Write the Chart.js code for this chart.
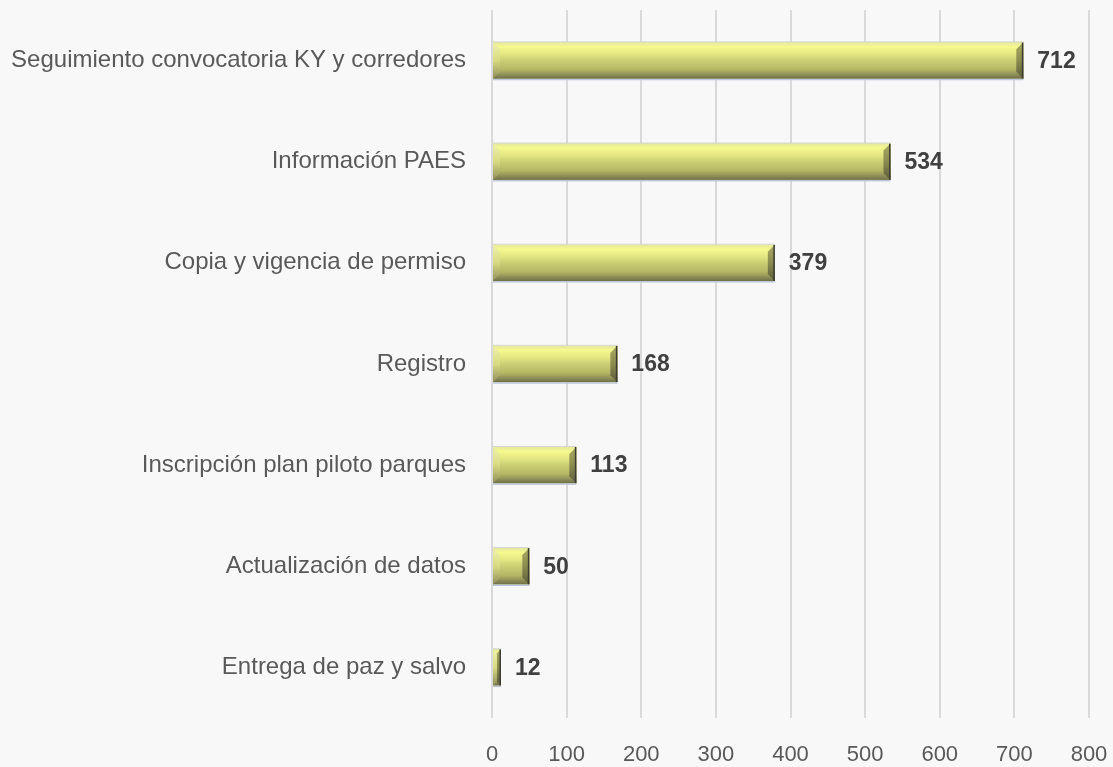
<!DOCTYPE html>
<html>
<head>
<meta charset="utf-8">
<script src="https://cdn.jsdelivr.net/npm/chart.js@4.4.0/dist/chart.umd.min.js"></script>
<style>
  html, body { margin: 0; padding: 0; background: #f8f8f8; }
  #wrap { width: 1113px; height: 767px; }
</style>
</head>
<body>
<div id="wrap"><canvas id="chart" width="1113" height="767"></canvas></div>
<script>
// data
const categories = [
  'Seguimiento convocatoria KY y corredores',
  'Información PAES',
  'Copia y vigencia de permiso',
  'Registro',
  'Inscripción plan piloto parques',
  'Actualización de datos',
  'Entrega de paz y salvo'
];
const values = [712, 534, 379, 168, 113, 50, 12];
const xTicks = [0, 100, 200, 300, 400, 500, 600, 700, 800];

// draws the bevelled look over each bar
const bevelBars = {
  id: 'bevelBars',
  afterDatasetsDraw(chart) {
    const ctx = chart.ctx;
    const meta = chart.getDatasetMeta(0);
    meta.data.forEach((bar) => {
      const p = bar.getProps(['x', 'y', 'base', 'height'], true);
      const L = Math.min(p.base, p.x), R = Math.max(p.base, p.x);
      const T = p.y - p.height / 2, B = p.y + p.height / 2;
      const w = R - L;
      const b = Math.min(7, w / 2);
      ctx.save();
      // body
      const g = ctx.createLinearGradient(0, T, 0, B);
      g.addColorStop(0, '#e4e79e');
      g.addColorStop(0.12, '#f6f98e');
      g.addColorStop(0.3, '#e6e983');
      g.addColorStop(0.5, '#cbce74');
      g.addColorStop(0.75, '#b4b664');
      g.addColorStop(0.9, '#8b8b56');
      g.addColorStop(1, '#6e6e48');
      ctx.fillStyle = g;
      ctx.fillRect(L, T, w, B - T);
      // left bevel
      const gl = ctx.createLinearGradient(0, T, 0, B);
      gl.addColorStop(0, '#f0f2aa');
      gl.addColorStop(0.5, '#d8da82');
      gl.addColorStop(1, '#8e8e58');
      ctx.fillStyle = gl;
      ctx.beginPath();
      ctx.moveTo(L, T);
      ctx.lineTo(L + b, T + b);
      ctx.lineTo(L + b, B - b);
      ctx.lineTo(L, B);
      ctx.closePath();
      ctx.fill();
      // right bevel
      const gr = ctx.createLinearGradient(0, T, 0, B);
      gr.addColorStop(0, '#a9ab62');
      gr.addColorStop(0.5, '#8a8b4e');
      gr.addColorStop(1, '#5c5c3c');
      ctx.fillStyle = gr;
      ctx.beginPath();
      ctx.moveTo(R, T);
      ctx.lineTo(R - b, T + b);
      ctx.lineTo(R - b, B - b);
      ctx.lineTo(R, B);
      ctx.closePath();
      ctx.fill();
      // dark right edge
      ctx.fillStyle = '#3c3c34';
      ctx.fillRect(R - 1.5, T, 1.5, B - T);
      // soft shadow under the bar
      ctx.fillStyle = '#bcc6d8';
      ctx.fillRect(L, B, w, 1.5);
      ctx.fillStyle = '#d6d8d0';
      ctx.fillRect(L, T - 1, w, 1);
      ctx.restore();
    });
  }
};

// value labels at the end of each bar
const valueLabels = {
  id: 'valueLabels',
  afterDatasetsDraw(chart) {
    const ctx = chart.ctx;
    const meta = chart.getDatasetMeta(0);
    ctx.save();
    ctx.font = 'bold 23px "Liberation Sans", Arial, sans-serif';
    ctx.fillStyle = '#404040';
    ctx.textAlign = 'left';
    ctx.textBaseline = 'middle';
    meta.data.forEach((bar, i) => {
      ctx.fillText(String(values[i]), bar.x + 14, bar.y + 1);
    });
    ctx.restore();
  }
};

new Chart(document.getElementById('chart').getContext('2d'), {
  type: 'bar',
  data: {
    labels: categories,
    datasets: [{
      data: values,
      backgroundColor: '#cbce74',
      borderWidth: 0,
      barPercentage: 0.36,
      categoryPercentage: 1
    }]
  },
  options: {
    indexAxis: 'y',
    responsive: false,
    animation: false,
    layout: { padding: { top: 10, right: 24, bottom: 0, left: 0 } },
    plugins: {
      legend: { display: false },
      tooltip: { enabled: false }
    },
    scales: {
      x: {
        min: 0,
        max: 800,
        afterBuildTicks: (scale) => { scale.ticks = xTicks.map(v => ({ value: v })); },
        afterFit: (scale) => {
          scale.height = 49;
          scale.paddingLeft = 0; scale.paddingRight = 0;
          scale.paddingTop = 0; scale.paddingBottom = 0;
        },
        grid: { color: '#d9d9d9', lineWidth: 2, drawTicks: false },
        border: { display: false },
        ticks: {
          padding: 24,
          color: '#595959',
          font: { family: '"Liberation Sans", Arial, sans-serif', size: 22 }
        }
      },
      y: {
        afterFit: (scale) => {
          scale.width = 492;
          scale.paddingLeft = 0; scale.paddingRight = 0;
          scale.paddingTop = 0; scale.paddingBottom = 0;
        },
        grid: { display: false, drawTicks: false },
        border: { display: false },
        ticks: {
          padding: 26,
          color: '#595959',
          font: { family: '"Liberation Sans", Arial, sans-serif', size: 24 }
        }
      }
    }
  },
  plugins: [bevelBars, valueLabels]
});
</script>
</body>
</html>
